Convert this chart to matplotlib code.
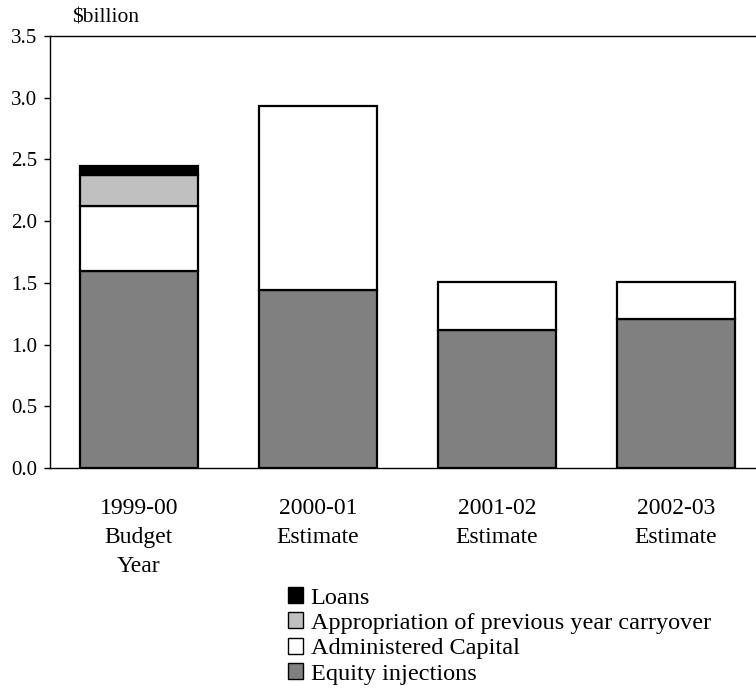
import matplotlib
matplotlib.use("Agg")
import matplotlib.pyplot as plt
from matplotlib.patches import Patch
import numpy as np

# ---------------------------------------------------------------------------
# Data ($billion)
# ---------------------------------------------------------------------------
categories = ["1999-00\nBudget\nYear", "2000-01\nEstimate", "2001-02\nEstimate", "2002-03\nEstimate"]
equity = [1.60, 1.44, 1.12, 1.21]
administered = [0.52, 1.49, 0.39, 0.30]
carryover = [0.25, 0.0, 0.0, 0.0]
loans = [0.08, 0.0, 0.0, 0.0]

series_labels = ["Equity injections", "Administered Capital",
                 "Appropriation of previous year carryover", "Loans"]
series_colors = ["#808080", "#FFFFFF", "#C0C0C0", "#000000"]
yticks = [0.0, 0.5, 1.0, 1.5, 2.0, 2.5, 3.0, 3.5]

plt.rcParams["font.family"] = ["Liberation Serif", "DejaVu Serif"]

fig = plt.figure(figsize=(7.56, 6.94), dpi=100)
ax = fig.add_axes([50 / 756, 1 - 468 / 694, 706 / 756, 432 / 694])

x_pos = np.arange(len(categories))
bottom = np.zeros(len(categories))
handles = []
for vals, lab, col in zip([equity, administered, carryover, loans], series_labels, series_colors):
    vals = np.array(vals)
    mask = vals > 0
    ax.bar(x_pos[mask], vals[mask], bottom=bottom[mask], width=0.66,
           color=col, edgecolor="black", linewidth=1.6, zorder=2)
    bottom += vals
    handles.append(Patch(facecolor=col, edgecolor="black", linewidth=1.0, label=lab))

ax.set_ylim(0, 3.5)
ax.set_xlim(-0.497, 3.447)
ax.set_yticks(yticks)
ax.set_yticklabels([f"{v:.1f}" for v in yticks], fontsize=15)
ax.set_xticks(x_pos)
ax.set_xticklabels(categories, fontsize=17, linespacing=1.5)
ax.tick_params(axis="x", length=0, pad=21.5)
ax.tick_params(axis="y", direction="out", length=4, width=1, pad=5)

ax.spines["right"].set_visible(False)
for s in ["left", "top", "bottom"]:
    ax.spines[s].set_linewidth(1.0)

fig.text(72 / 756, 1 - 18 / 694, "$billion", fontsize=15.5, ha="left", va="center")

fig.legend(handles[::-1], series_labels[::-1], loc="upper left",
           bbox_to_anchor=(288 / 756, 1 - 587 / 694), frameon=False,
           fontsize=17.5, handlelength=0.63, handleheight=0.63,
           handletextpad=0.3, labelspacing=0.16, borderaxespad=0,
           borderpad=0)

fig.savefig("out.png", dpi=100)
